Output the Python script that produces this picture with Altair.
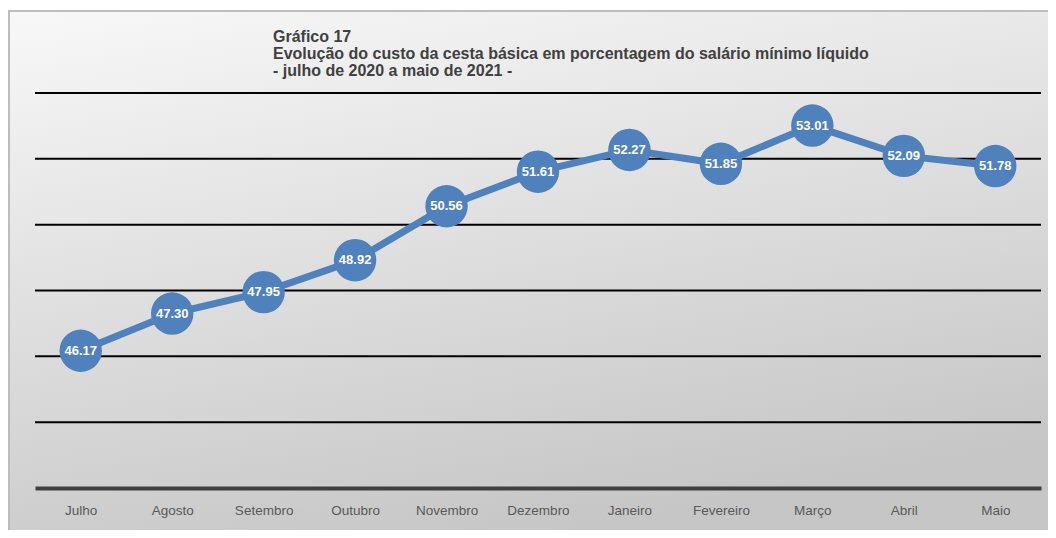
import altair as alt
import pandas as pd

months = ["Julho", "Agosto", "Setembro", "Outubro", "Novembro", "Dezembro",
          "Janeiro", "Fevereiro", "Março", "Abril", "Maio"]
values = [46.17, 47.30, 47.95, 48.92, 50.56, 51.61, 52.27, 51.85, 53.01, 52.09, 51.78]
grid_values = [44, 46, 48, 50, 52, 54]
title_lines = ["Gráfico 17",
               "Evolução do custo da cesta básica em porcentagem do salário mínimo líquido",
               "- julho de 2020 a maio de 2021 -"]

df = pd.DataFrame({"mes": months, "valor": values})
grid_df = pd.DataFrame({"g": grid_values})

FONT = "Liberation Sans"
BLUE = "#4f81bd"

y_scale = alt.Scale(domain=[42, 54], nice=False, zero=False)

x_enc = alt.X("mes:N", sort=months, title=None,
              scale=alt.Scale(paddingInner=0, paddingOuter=0),
              axis=alt.Axis(labelAngle=0, ticks=False, labelPadding=15, zindex=1,
                            labelFontSize=13.5, labelColor="#595959", labelFont=FONT,
                            domainColor="#404040", domainWidth=4, grid=False))
y_enc = alt.Y("valor:Q", title=None, scale=y_scale, axis=None)

bg = alt.Chart(alt.Data(values=[{}])).mark_rect(
    fill=alt.Gradient(gradient="linear",
                      stops=[alt.GradientStop(color="#f8f8f8", offset=0),
                             alt.GradientStop(color="#c6c6c6", offset=1)],
                      x1=0, y1=0, x2=0.35, y2=1),
    stroke="#bdbdbd", strokeWidth=2
).encode(x=alt.value(-26), x2=alt.value(1040), y=alt.value(-82), y2=alt.value(470))

grid = alt.Chart(grid_df).mark_rule(color="#000000", strokeWidth=2).encode(
    y=alt.Y("g:Q", scale=y_scale, axis=None), x=alt.value(0), x2=alt.value(1006))

title_layers = []
for i, t in enumerate(title_lines):
    title_layers.append(
        alt.Chart(alt.Data(values=[{"t": t}])).mark_text(
            align="left", baseline="middle", font=FONT, fontSize=16,
            fontWeight="bold", color="#404040"
        ).encode(x=alt.value(238), y=alt.value(-56 + 17 * i), text="t:N")
    )

base = alt.Chart(df)
line = base.mark_line(color=BLUE, strokeWidth=7).encode(x=x_enc, y=y_enc)
points = base.mark_circle(color=BLUE, size=1800, opacity=1).encode(x=x_enc, y=y_enc)
labels = base.mark_text(color="white", fontWeight="bold", fontSize=13, font=FONT).encode(
    x=x_enc, y=y_enc, text=alt.Text("valor:Q", format=".2f"))

chart = alt.layer(bg, grid, line, points, labels, *title_layers).properties(
    width=1006, height=395,
    autosize=alt.AutoSizeParams(type="none"),
    padding={"left": 27, "top": 85, "right": 7, "bottom": 42},
).configure_view(stroke=None).configure(background="white")

chart.save("out.html", embed_options={"renderer": "svg", "actions": False})
